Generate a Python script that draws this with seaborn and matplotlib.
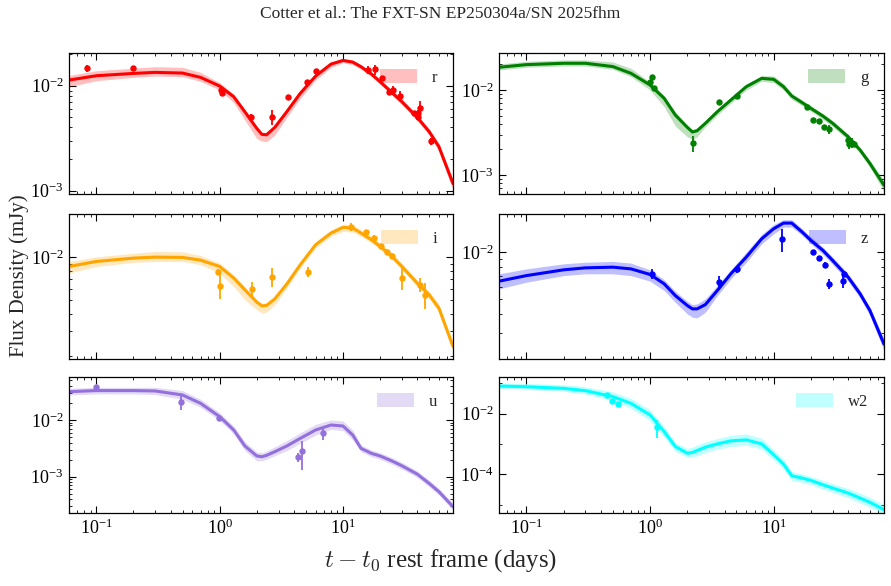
import matplotlib
matplotlib.use("Agg")
import matplotlib.pyplot as plt
import seaborn as sns
import numpy as np
from matplotlib.ticker import LogLocator, NullFormatter, FixedLocator

# ---------------- data ----------------
t_model = [0.06, 0.1, 0.2, 0.3, 0.5, 0.7, 1.0, 1.3, 1.6, 2.0, 2.2, 2.4, 2.8, 3.5, 4.5,
           6, 8, 10, 12, 14, 17, 20, 25, 30, 40, 50, 60, 78]

# r band
r_mod = [0.01132, 0.01245, 0.01310, 0.01340, 0.01320, 0.01200, 0.00993, 0.00785, 0.00565, 0.00392,
         0.00344, 0.00341, 0.00401, 0.00565, 0.00845, 0.01236, 0.01607, 0.01742, 0.01679, 0.01517,
         0.01292, 0.01092, 0.00858, 0.00705, 0.00499, 0.00365, 0.00262, 0.00117]
r_hi = [0.01253, 0.0139, 0.01472, 0.01517, 0.01496, 0.0134, 0.01069, 0.00834, 0.00586, 0.00401,
        0.00356, 0.00347, 0.00415, 0.00585, 0.0087, 0.01253, 0.01656, 0.0182, 0.01754, 0.01585,
        0.01349, 0.01148, 0.0091, 0.00747, 0.0053, 0.00386, 0.00283, 0.00126]
r_lo = [0.00978, 0.01116, 0.0120, 0.01236, 0.01219, 0.01099, 0.0091, 0.00689, 0.00471, 0.00313,
        0.00297, 0.00293, 0.00339, 0.00499, 0.00757, 0.01132, 0.01496, 0.01656, 0.01585, 0.01432,
        0.01219, 0.0103, 0.00809, 0.00659, 0.00465, 0.00339, 0.0024, 0.00101]
r_t = [0.084, 0.198, 1.03, 1.05, 1.79, 2.64, 3.58, 5.14, 6.0, 15.9, 18.1, 20.6, 23.5, 25.4, 29.1,
       37.4, 40.3, 40.6, 41.9, 52.0]
r_f = [0.01463, 0.0148, 0.0092, 0.0086, 0.00499, 0.00507, 0.00774, 0.01091, 0.0139, 0.0141, 0.0143,
       0.01175, 0.00865, 0.0091, 0.00803, 0.00553, 0.00553, 0.00507, 0.00608, 0.00295]
r_err = [0.001, 0.0005, 0.0005, 0.0005, 0.0004, 0.0008, 0.0002, 0.0005, 0.0005, 0.0013, 0.0016,
         0.0006, 0.0004, 0.0009, 0.0009, 0.0002, 0.0003, 0.0004, 0.0011, 0.0002]

# g band
g_mod = [0.0185, 0.01986, 0.0206, 0.0206, 0.01884, 0.01571, 0.01145, 0.00798, 0.00508, 0.00364,
         0.00321, 0.00332, 0.00406, 0.00556, 0.00762, 0.01094, 0.01371, 0.01334, 0.01094, 0.0085,
         0.0071, 0.00608, 0.00494, 0.00406, 0.00282, 0.00197, 0.00137, 0.00076]
g_hi = [0.02023, 0.02173, 0.02254, 0.02254, 0.02134, 0.01799, 0.01241, 0.00865, 0.00556, 0.00388,
        0.00344, 0.00357, 0.00436, 0.00597, 0.0082, 0.01177, 0.01475, 0.01462, 0.01197, 0.00914,
        0.00762, 0.00654, 0.00531, 0.00436, 0.00303, 0.00211, 0.0015, 0.00087]
g_lo = [0.01718, 0.0185, 0.01914, 0.01914, 0.0175, 0.01436, 0.01, 0.00637, 0.00377, 0.00282,
        0.00263, 0.00282, 0.0037, 0.00508, 0.00697, 0.01, 0.01265, 0.01219, 0.01, 0.00776,
        0.00654, 0.00561, 0.00452, 0.0037, 0.00258, 0.0018, 0.00123, 0.00064]
g_t = [0.99, 1.04, 1.08, 2.21, 3.59, 5.08, 18.5, 20.9, 23.3, 25.7, 28.2, 39.7, 40.7, 42.7, 44.7]
g_f = [0.01253, 0.01422, 0.01047, 0.00236, 0.00723, 0.00858, 0.00637, 0.00444, 0.00432, 0.0037,
       0.00345, 0.00258, 0.00232, 0.0024, 0.00232]
g_err = [0.0004, 0.0004, 0.0004, 0.0005, 0.0003, 0.0004, 0.0002, 0.0002, 0.0002, 0.0002, 0.0004,
         0.0004, 0.0003, 0.0003, 0.0002]

# i band
i_mod = [0.00859, 0.00932, 0.00984, 0.0100, 0.00995, 0.00952, 0.00859, 0.00712, 0.00589, 0.00482,
         0.00454, 0.00457, 0.00509, 0.00646, 0.00883, 0.01222, 0.01476, 0.01618, 0.016, 0.01476,
         0.01324, 0.01189, 0.01011, 0.00859, 0.00656, 0.00543, 0.00437, 0.00235]
i_hi = [0.00932, 0.01005, 0.01066, 0.01096, 0.0109, 0.01027, 0.00908, 0.0075, 0.00621, 0.00501,
        0.00474, 0.00474, 0.00528, 0.00675, 0.00922, 0.01276, 0.01557, 0.01706, 0.0169, 0.01557,
        0.014, 0.01256, 0.01066, 0.00908, 0.00692, 0.00573, 0.00467, 0.00255]
i_lo = [0.00771, 0.00859, 0.00917, 0.00932, 0.00932, 0.00883, 0.00771, 0.00621, 0.00501, 0.00426,
        0.00403, 0.0041, 0.00462, 0.00605, 0.00837, 0.01157, 0.014, 0.01517, 0.015, 0.014,
        0.01256, 0.01127, 0.00958, 0.00815, 0.00621, 0.00509, 0.0041, 0.00217]
i_t = [0.976, 1.01, 1.84, 2.67, 5.17, 11.6, 15.3, 17.7, 20.2, 22.7, 25.1, 30.1, 42.4, 45.9]
i_f = [0.00784, 0.00631, 0.00601, 0.00727, 0.00788, 0.01637, 0.01492, 0.01361, 0.01189, 0.01084,
       0.01017, 0.00715, 0.00638, 0.00543]
i_err = [0.0004, 0.0012, 0.0007, 0.0011, 0.0006, 0.0011, 0.0006, 0.0006, 0.0004, 0.0005, 0.0005,
         0.0013, 0.0007, 0.0011]

# z band
z_mod = [0.0065, 0.00706, 0.00769, 0.00792, 0.008, 0.0078, 0.00718, 0.00625, 0.00525, 0.00453,
         0.00431, 0.00431, 0.00459, 0.00566, 0.00725, 0.00929, 0.01219, 0.01415, 0.01538, 0.01538,
         0.01346, 0.01189, 0.01026, 0.00883, 0.0069, 0.00539, 0.00421, 0.00256]
z_hi = [0.00725, 0.0078, 0.00841, 0.00861, 0.00871, 0.0085, 0.00769, 0.00664, 0.0056, 0.00483,
        0.00459, 0.00464, 0.005, 0.0061, 0.00769, 0.01, 0.013, 0.01507, 0.01619, 0.01619,
        0.01415, 0.01251, 0.01077, 0.00929, 0.00725, 0.00566, 0.00442, 0.00276]
z_lo = [0.0058, 0.0064, 0.00706, 0.00725, 0.00725, 0.00706, 0.0065, 0.00566, 0.00475, 0.004,
        0.00381, 0.00377, 0.0041, 0.00525, 0.00673, 0.00861, 0.01132, 0.01312, 0.01449, 0.01449,
        0.01282, 0.01132, 0.00966, 0.00832, 0.0065, 0.00507, 0.0039, 0.00232]
z_t = [1.04, 3.59, 5.08, 11.7, 20.9, 23.3, 25.8, 28.2, 36.6, 37.3]
z_f = [0.00725, 0.0064, 0.00773, 0.01208, 0.00995, 0.00915, 0.00828, 0.00625, 0.0065, 0.00725]
z_err = [0.00054, 0.00063, 0.0004, 0.0021, 0.0003, 0.0003, 0.0004, 0.00045, 0.00065, 0.0003]

# u band
u_mod = [0.0316, 0.033, 0.033, 0.0325, 0.0276, 0.01968, 0.01145, 0.00667, 0.00348, 0.00232,
         0.00225, 0.00238, 0.00276, 0.00348, 0.00474, 0.00667, 0.00816, 0.00783, 0.00543, 0.00316,
         0.00258, 0.00232, 0.00189, 0.00156, 0.00111, 0.00076, 0.000543, 0.000296]
u_hi = [0.0362, 0.0377, 0.0377, 0.0377, 0.033, 0.0232, 0.01346, 0.00783, 0.00415, 0.00272,
        0.00265, 0.00284, 0.00338, 0.00432, 0.00597, 0.00839, 0.01, 0.0096, 0.00667, 0.00362,
        0.00296, 0.00265, 0.00217, 0.00179, 0.00127, 0.00087, 0.000622, 0.000339]
u_lo = [0.0276, 0.0288, 0.0288, 0.028, 0.0232, 0.01675, 0.00973, 0.00566, 0.00288, 0.00191,
        0.00191, 0.00202, 0.00235, 0.00288, 0.00388, 0.00543, 0.00685, 0.00649, 0.00444, 0.00276,
        0.00225, 0.00202, 0.00165, 0.00136, 0.00097, 0.00066, 0.000474, 0.000258]
u_t = [0.1, 0.489, 0.99, 4.29, 4.62, 6.93]
u_f = [0.0377, 0.0211, 0.01084, 0.00225, 0.0028, 0.00597]
u_err = [0.002, 0.006, 0.0006, 0.0004, 0.0015, 0.0015]

# w2 band
w2_mod = [0.0807, 0.0767, 0.0677, 0.0568, 0.0361, 0.0218, 0.00904, 0.00257, 0.000828, 0.0005,
          0.000526, 0.000612, 0.000787, 0.00101, 0.00127, 0.00137, 0.00101, 0.000441, 0.000218,
          9.04e-5, 7.58e-5, 6.36e-5, 4.58e-5, 3.56e-5, 2.44e-5, 1.67e-5, 1.21e-5, 6.95e-6]
w2_hi = [0.0988, 0.0988, 0.0893, 0.0767, 0.0513, 0.0318, 0.0132, 0.00375, 0.00112, 0.000711,
         0.000787, 0.000916, 0.00118, 0.00151, 0.00195, 0.00215, 0.00155, 0.000644, 0.000318,
         0.000125, 0.000105, 8.6e-5, 6.36e-5, 4.94e-5, 3.47e-5, 2.44e-5, 1.76e-5, 1.01e-5]
w2_lo = [0.0661, 0.0628, 0.054, 0.0442, 0.0267, 0.015, 0.00589, 0.00168, 0.000568, 0.00037,
         0.00037, 0.000409, 0.000526, 0.000678, 0.000828, 0.000916, 0.000678, 0.000303, 0.00015,
         6.36e-5, 5.47e-5, 4.58e-5, 3.3e-5, 2.57e-5, 1.72e-5, 1.15e-5, 8.49e-6, 4.76e-6]
w2_t = [0.447, 0.496, 0.548, 1.14]
w2_f = [0.0409, 0.0267, 0.0207, 0.00375]
w2_err = [0.006, 0.003, 0.003, 0.0022]

band_names = ["r", "g", "i", "z", "u", "w2"]
band_colors = ["red", "green", "orange", "blue", "mediumpurple", "cyan"]
y_limits = [(9.3e-4, 0.0205), (6.0e-4, 0.0272), (1.92e-3, 0.0201),
            (2.05e-3, 0.0176), (2.29e-4, 0.0573), (5.4e-6, 0.16)]
x_limits = (0.06, 78)
w2_major_ticks = [1e-6, 1e-4, 1e-2, 1.0]
w2_minor_ticks = [1e-5, 1e-3, 1e-1]

title_text = "Cotter et al.: The FXT-SN EP250304a/SN 2025fhm"
ylabel_text = "Flux Density (mJy)"
xlabel_text = r"$t - t_0$ rest frame (days)"

# ---------------- style ----------------
sns.set_theme(style="ticks")
plt.rcParams.update({
    "font.family": ["Liberation Serif", "DejaVu Serif"],
    "mathtext.fontset": "cm",
    "xtick.direction": "in", "ytick.direction": "in",
    "xtick.top": True, "ytick.right": True,
    "xtick.major.size": 5, "ytick.major.size": 5,
    "xtick.minor.size": 2.5, "ytick.minor.size": 2.5,
    "xtick.major.width": 0.8, "ytick.major.width": 0.8,
    "xtick.minor.width": 0.6, "ytick.minor.width": 0.6,
    "axes.linewidth": 0.9, "axes.edgecolor": "black",
    "xtick.color": "black", "ytick.color": "black",
    "xtick.labelsize": 13, "ytick.labelsize": 13,
    "xtick.major.pad": 4, "ytick.major.pad": 4,
})

fig = plt.figure(figsize=(8.91, 5.86), dpi=100)

W, H = 891.0, 586.0
cols = [(69, 453), (499, 884)]
rows = [(53, 194), (214, 359), (377, 513)]

panels = [
    (r_mod, r_lo, r_hi, r_t, r_f, r_err),
    (g_mod, g_lo, g_hi, g_t, g_f, g_err),
    (i_mod, i_lo, i_hi, i_t, i_f, i_err),
    (z_mod, z_lo, z_hi, z_t, z_f, z_err),
    (u_mod, u_lo, u_hi, u_t, u_f, u_err),
    (w2_mod, w2_lo, w2_hi, w2_t, w2_f, w2_err),
]

for k, (mod, lo, hi, tt, ff, ee) in enumerate(panels):
    r, c = divmod(k, 2)
    x0, x1 = cols[c]
    y0, y1 = rows[r]
    ax = fig.add_axes([x0 / W, 1 - y1 / H, (x1 - x0) / W, (y1 - y0) / H])
    col = band_colors[k]
    ax.set_xscale("log")
    ax.set_yscale("log")
    ax.fill_between(t_model, lo, hi, color=col, alpha=0.25, lw=0, label=band_names[k])
    sns.lineplot(x=t_model, y=mod, ax=ax, color=col, lw=2.2, sort=False, estimator=None)
    ax.errorbar(tt, ff, yerr=ee, fmt="o", color=col, ms=3.6, elinewidth=1.3, capsize=0)
    ax.set_xlim(*x_limits)
    ax.set_ylim(*y_limits[k])
    ax.xaxis.set_major_locator(LogLocator(base=10, numticks=12))
    ax.xaxis.set_minor_locator(LogLocator(base=10, subs=np.arange(2, 10), numticks=12))
    ax.xaxis.set_minor_formatter(NullFormatter())
    if band_names[k] == "w2":
        ax.yaxis.set_major_locator(FixedLocator(w2_major_ticks))
        ax.yaxis.set_minor_locator(FixedLocator(w2_minor_ticks))
    else:
        ax.yaxis.set_major_locator(LogLocator(base=10, numticks=12))
        ax.yaxis.set_minor_locator(LogLocator(base=10, subs=np.arange(2, 10), numticks=12))
    ax.yaxis.set_minor_formatter(NullFormatter())
    ax.tick_params(which="both", top=True, right=True)
    if r < 2:
        ax.tick_params(labelbottom=False)
    ax.set_xlabel("")
    ax.set_ylabel("")
    ax.legend(loc="upper right", frameon=False, handlelength=2.2, handleheight=0.95,
              handletextpad=0.9, fontsize=12, borderaxespad=0.55)

fig.text(0.494, 0.976, title_text, ha="center", va="center", fontsize=12.5)
fig.text(0.022, 0.53, ylabel_text, ha="center", va="center", rotation=90, fontsize=15)
fig.text(0.495, 0.044, xlabel_text, ha="center", va="center", fontsize=18)

fig.savefig("out.png", dpi=100)
